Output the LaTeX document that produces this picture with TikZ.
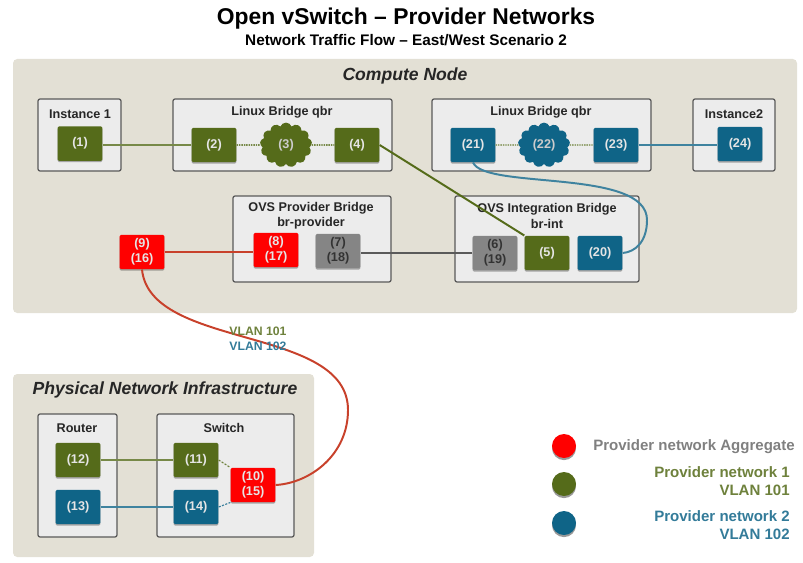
\documentclass[tikz,border=0pt]{standalone}
\usepackage{fontspec}
\setmainfont{Liberation Sans}
\usetikzlibrary{shapes.symbols,shadows}
\definecolor{olivenet}{HTML}{556B1A}
\definecolor{tealnet}{HTML}{0F6487}
\definecolor{rednet}{HTML}{FF0000}
\definecolor{redwire}{HTML}{C8412B}
\definecolor{greynet}{HTML}{858585}
\definecolor{panelbg}{HTML}{E3E0D5}
\definecolor{boxbg}{HTML}{ECECEC}
\definecolor{boxline}{HTML}{5A5A5A}
\tikzset{
	panel/.style={fill=panelbg, rounded corners=3pt},
	bridgebox/.style={draw=boxline, fill=boxbg, line width=0.9pt, rounded corners=1.5pt},
	boxtitle/.style={font=\fontsize{9}{10.8}\selectfont\bfseries, text=black!85, align=center},
	paneltitle/.style={font=\fontsize{12.5}{15}\selectfont\bfseries\itshape, text=black!85},
	port/.style={minimum width=1.12cm, minimum height=0.86cm, inner sep=0pt, rounded corners=1pt, align=center,
		font=\fontsize{9}{10.6}\selectfont\bfseries, text=white!90!black,
		drop shadow={shadow xshift=0pt, shadow yshift=-1pt, opacity=0.3, fill=black}},
	oliveport/.style={port, fill=olivenet},
	tealport/.style={port, fill=tealnet},
	redport/.style={port, fill=rednet},
	greyport/.style={port, fill=greynet, text=black!80},
	netcloud/.style={cloud, cloud puffs=13, cloud puff arc=140, aspect=1.15, minimum width=1.3cm, minimum height=1.12cm, inner sep=0pt,
		font=\fontsize{9}{10.6}\selectfont\bfseries, text=white!80!black},
	wire/.style={line width=1.4pt},
	linkdots/.style={line width=1.2pt, dash pattern=on 1pt off 0.7pt},
	linkdash/.style={line width=0.8pt, dash pattern=on 1.5pt off 1pt},
	legenddot/.style={circle, minimum size=0.6cm, inner sep=0pt,
		drop shadow={shadow xshift=0pt, shadow yshift=-1.5pt, opacity=0.4, fill=black}},
	legendtext/.style={font=\fontsize{10.7}{12.8}\selectfont\bfseries, anchor=east, align=right, inner sep=0pt},
	vlantext/.style={font=\fontsize{8.7}{10.4}\selectfont\bfseries}
}

\begin{document}
\begin{tikzpicture}
	%%%%% START %%%%%
	\useasboundingbox (0, 0) rectangle (20.075, 14.05);

	\node[font=\fontsize{16.25}{19}\selectfont\bfseries] (title) at (10.15, 13.575) {Open vSwitch -- Provider Networks};
	\node[font=\fontsize{10.9}{13}\selectfont\bfseries] (subtitle) at (10.15, 13.05) {Network Traffic Flow -- East/West Scenario 2};

	\fill[panel] (0.325, 6.225) rectangle (19.925, 12.575);
	\fill[panel] (0.325, 0.125) rectangle (7.85, 4.7);
	\node[paneltitle] (computetitle) at (10.125, 12.15) {Compute Node};
	\node[paneltitle] (physicaltitle) at (4.125, 4.3) {Physical Network Infrastructure};

	\draw[bridgebox] (0.95, 9.775) rectangle (3.025, 11.575);
	\draw[bridgebox] (4.325, 9.775) rectangle (9.8, 11.575);
	\draw[bridgebox] (10.8, 9.775) rectangle (16.275, 11.575);
	\draw[bridgebox] (17.325, 9.775) rectangle (19.375, 11.575);
	\draw[bridgebox] (5.825, 7) rectangle (9.775, 9.15);
	\draw[bridgebox] (11.375, 7) rectangle (15.975, 9.15);
	\draw[bridgebox] (0.95, 0.625) rectangle (2.925, 3.7);
	\draw[bridgebox] (3.925, 0.625) rectangle (7.35, 3.7);

	\node[boxtitle] (inst1title) at (2, 11.2) {Instance 1};
	\node[boxtitle] (qbr1title) at (7.05, 11.25) {Linux Bridge qbr};
	\node[boxtitle] (qbr2title) at (13.525, 11.25) {Linux Bridge qbr};
	\node[boxtitle] (inst2title) at (18.35, 11.2) {Instance2};
	\node[boxtitle] (provtitle) at (7.775, 8.65) {OVS Provider Bridge\\br-provider};
	\node[boxtitle] (inttitle) at (13.675, 8.65) {OVS Integration Bridge\\br-int};
	\node[boxtitle] (routertitle) at (1.925, 3.35) {Router};
	\node[boxtitle] (switchtitle) at (5.6, 3.35) {Switch};

	\node[oliveport] (n1) at (2, 10.46) {(1)};
	\node[oliveport] (n2) at (5.35, 10.425) {(2)};
	\node[netcloud, fill=olivenet] (n3) at (7.15, 10.425) {(3)};
	\node[oliveport] (n4) at (8.925, 10.425) {(4)};
	\node[oliveport] (n5) at (13.675, 7.725) {(5)};
	\node[greyport] (n6) at (12.375, 7.725) {(6)\\(19)};
	\node[greyport] (n7) at (8.45, 7.775) {(7)\\(18)};
	\node[redport] (n8) at (6.9, 7.8) {(8)\\(17)};
	\node[redport] (n9) at (3.55, 7.75) {(9)\\(16)};
	\node[redport] (n10) at (6.325, 1.925) {(10)\\(15)};
	\node[oliveport] (n11) at (4.9, 2.55) {(11)};
	\node[oliveport] (n12) at (1.95, 2.55) {(12)};
	\node[tealport] (n13) at (1.95, 1.375) {(13)};
	\node[tealport] (n14) at (4.9, 1.375) {(14)};
	\node[tealport] (n20) at (15, 7.725) {(20)};
	\node[tealport] (n21) at (11.825, 10.425) {(21)};
	\node[netcloud, fill=tealnet] (n22) at (13.6, 10.425) {(22)};
	\node[tealport] (n23) at (15.4, 10.425) {(23)};
	\node[tealport] (n24) at (18.5, 10.45) {(24)};

	\draw[wire, color=olivenet!80] (n2.west) -- (n2.west -| n1.east);
	\draw[linkdots, color=olivenet!80] (n2) -- (n3);
	\draw[linkdots, color=olivenet!80] (n3) -- (n4);
	\draw[wire, color=olivenet] (n4.east) -- (n5.north west);
	\draw[wire, color=boxline] (n6.west) -- (n6.west -| n7.east);
	\draw[wire, color=redwire] (n9.east) -- (n9.east -| n8.west);
	\draw[wire, color=olivenet!80] (n12) -- (n11);
	\draw[wire, color=tealnet!80] (n13) -- (n14);
	\draw[linkdash, color=olivenet!85] (n11.east) -- (n10.north west);
	\draw[linkdash, color=tealnet!85] (n14.east) -- (n10.south west);
	\draw[linkdots, color=olivenet!60] (n21) -- (n22);
	\draw[linkdots, color=olivenet!60] (n22) -- (n23);
	\draw[wire, color=tealnet!80] (n23.east) -- (n23.east -| n24.west);
	\draw[wire, color=tealnet!80] (n21.south) .. controls (12.125, 9.3) and (16.175, 9.85) .. (16.175, 8.55)
		.. controls (16.175, 8) and (15.875, 7.75) .. (n20.east);

	\draw[wire, color=redwire] (n9.south) .. controls (3.75, 5.3) and (8.7, 5.925) .. (8.7, 3.8)
		.. controls (8.7, 2.675) and (7.75, 1.975) .. (n10.east);
	\node[vlantext, text=olivenet!85] (vlan1) at (6.45, 5.775) {VLAN 101};
	\node[vlantext, text=tealnet!85] (vlan2) at (6.45, 5.4) {VLAN 102};

	\node[legenddot, fill=rednet] (dot1) at (14.1, 2.9) {};
	\node[legenddot, fill=olivenet] (dot2) at (14.1, 1.95) {};
	\node[legenddot, fill=tealnet] (dot3) at (14.1, 0.975) {};
	\node[legendtext, text=black!50] (leg1) at (19.875, 2.875) {Provider network Aggregate};
	\node[legendtext, text=olivenet!85] (leg2) at (19.75, 2.025) {Provider network 1\\VLAN 101};
	\node[legendtext, text=tealnet!85] (leg3) at (19.75, 0.925) {Provider network 2\\VLAN 102};
	%%%%% END %%%%%
\end{tikzpicture}
\end{document}
